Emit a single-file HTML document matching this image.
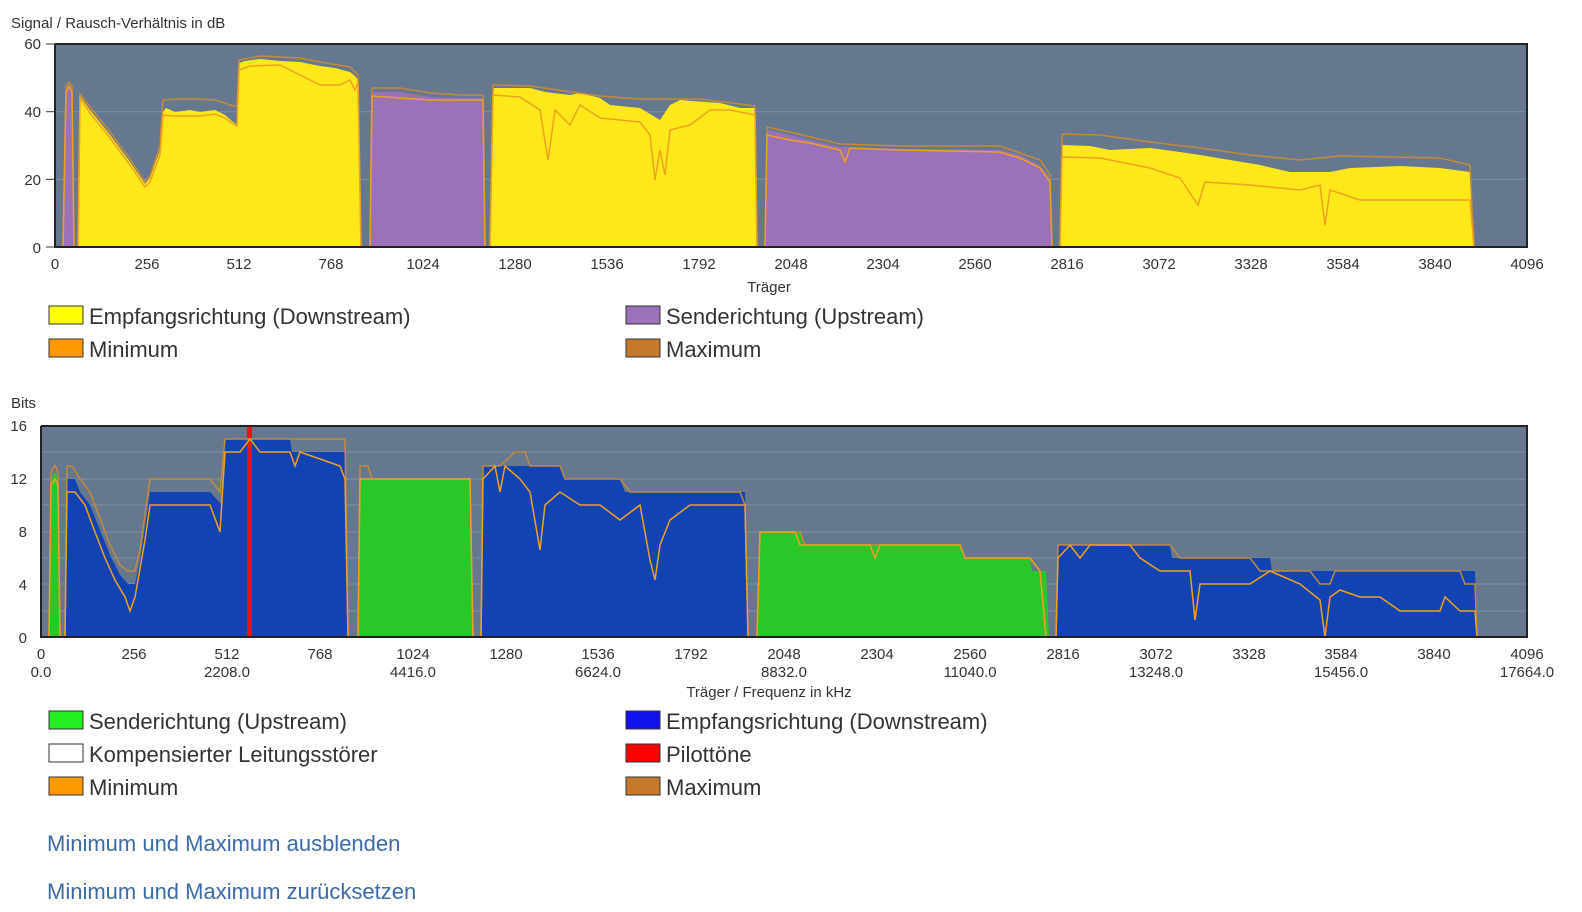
<!DOCTYPE html>
<html><head><meta charset="utf-8"><style>
body{margin:0;background:#fff;}
svg{display:block;font-family:"Liberation Sans",sans-serif;}
</style></head><body>
<svg width="1582" height="912" viewBox="0 0 1582 912" xmlns="http://www.w3.org/2000/svg">
<!-- Chart 1 -->
<text x="11" y="28" font-size="15" fill="#333">Signal / Rausch-Verhältnis in dB</text>
<rect x="55" y="44" width="1472" height="203" fill="#657890"/>
<g stroke="#7d90a6" stroke-width="1"><line x1="55" y1="111.7" x2="1527" y2="111.7"/><line x1="55" y1="179.3" x2="1527" y2="179.3"/></g>
<polygon fill="#9b72b8" points="63,247 66,90 69,84 72,90 74,247"/>
<polygon fill="#9b72b8" points="370,247 372,92 400,92 430,97 460,98 483,98 485,247"/>
<polygon fill="#9b72b8" points="765,247 767,130 790,135 810,140 840,147 900,149 1000,150 1020,155 1040,165 1050,178 1052,247"/>
<polygon fill="#ffe81a" points="78,247 80,96 90,110 110,135 130,162 145,184 150,178 160,150 163,112 166,108 175,112 190,110 200,112 215,110 225,115 233,122 237,125 239,63 245,61 260,59 280,61 300,62 320,66 335,68 350,72 355,76 358,80 361,247"/>
<polygon fill="#ffe81a" points="490,247 493,88 530,88 545,92 570,95 580,93 600,98 610,105 640,108 660,120 670,105 680,100 720,103 740,108 755,108 757,247"/>
<polygon fill="#ffe81a" points="1060,247 1062,145 1090,146 1110,150 1150,148 1180,152 1200,155 1230,160 1260,165 1290,172 1330,172 1350,168 1400,166 1440,168 1470,172 1474,247"/>
<g fill="none" stroke-width="1.5">
<polyline stroke="#c48a3a" points="63,247 66,86 69,82 72,86 74,247 78,247 80,94 90,107 110,132 130,159 145,182 150,176 160,146 163,100 175,99 200,99 215,100 225,103 233,106 237,106 239,60 260,56 300,58 320,62 350,67 358,75 361,247 370,247 372,88 400,88 430,93 460,95 483,95 485,247 490,247 493,85 530,86 600,96 640,99 700,99 740,104 755,106 757,247 765,247 767,127 790,132 840,144 900,146 1000,146 1040,160 1050,175 1052,247 1060,247 1062,134 1100,135 1150,142 1200,148 1250,155 1300,160 1340,156 1440,158 1470,165 1474,247"/>
<polyline stroke="#f0a020" points="63,247 66,92 69,86 72,92 74,247 78,247 80,98 90,113 110,138 130,165 145,187 150,182 160,155 163,115 175,116 200,116 215,114 225,118 233,124 237,126 239,70 250,66 280,65 300,75 320,85 340,85 350,80 355,90 358,82 361,247 370,247 372,96 400,98 430,100 460,100 483,100 485,247 490,247 493,95 520,97 540,110 548,160 555,110 570,125 580,105 600,118 620,120 640,122 650,135 655,180 660,150 665,175 670,130 690,125 710,110 730,110 755,115 757,247 765,247 767,135 790,140 810,143 840,150 845,162 850,148 900,150 1000,152 1020,158 1040,168 1050,182 1052,247 1060,247 1062,157 1100,158 1150,168 1180,178 1198,205 1205,182 1250,185 1300,190 1320,185 1325,225 1330,190 1360,200 1400,200 1440,200 1470,200 1474,247"/>
</g>
<polyline fill="none" stroke="#222" stroke-width="2" points="55,44 1527,44 1527,247 55,247 55,44"/>
<g font-size="15" fill="#333" text-anchor="end"><text x="41" y="49">60</text><text x="41" y="117">40</text><text x="41" y="185">20</text><text x="41" y="253">0</text></g>
<g stroke="#333"><line x1="46" y1="44" x2="55" y2="44"/><line x1="46" y1="111.7" x2="55" y2="111.7"/><line x1="46" y1="179.3" x2="55" y2="179.3"/><line x1="46" y1="247" x2="55" y2="247"/></g>
<g font-size="15" fill="#333" text-anchor="middle">
<text x="55" y="269">0</text><text x="147" y="269">256</text><text x="239" y="269">512</text><text x="331" y="269">768</text><text x="423" y="269">1024</text><text x="515" y="269">1280</text><text x="607" y="269">1536</text><text x="699" y="269">1792</text><text x="791" y="269">2048</text><text x="883" y="269">2304</text><text x="975" y="269">2560</text><text x="1067" y="269">2816</text><text x="1159" y="269">3072</text><text x="1251" y="269">3328</text><text x="1343" y="269">3584</text><text x="1435" y="269">3840</text><text x="1527" y="269">4096</text>
<text x="769" y="292">Träger</text></g>
<g font-size="22" fill="#333">
<rect x="49" y="306" width="34" height="18" fill="#ffff00" stroke="#333"/><text x="89" y="324">Empfangsrichtung (Downstream)</text>
<rect x="626" y="306" width="34" height="18" fill="#9b72b8" stroke="#333"/><text x="666" y="324">Senderichtung (Upstream)</text>
<rect x="49" y="339" width="34" height="18" fill="#ff9900" stroke="#333"/><text x="89" y="357">Minimum</text>
<rect x="626" y="339" width="34" height="18" fill="#c47a2a" stroke="#333"/><text x="666" y="357">Maximum</text>
</g>
<!-- Chart 2 -->
<text x="11" y="408" font-size="15" fill="#333">Bits</text>
<rect x="41" y="426" width="1486" height="211" fill="#657890"/>
<g stroke="#7d90a6" stroke-width="1"><line x1="41" y1="452" x2="1527" y2="452"/><line x1="41" y1="479" x2="1527" y2="479"/><line x1="41" y1="505" x2="1527" y2="505"/><line x1="41" y1="532" x2="1527" y2="532"/><line x1="41" y1="558" x2="1527" y2="558"/><line x1="41" y1="584" x2="1527" y2="584"/><line x1="41" y1="611" x2="1527" y2="611"/></g>
<polygon fill="#28c828" points="49,637 51,479 55,472 58,479 60,637"/>
<polygon fill="#28c828" points="358,637 360,479 470,479 473,637"/>
<polygon fill="#28c828" points="757,637 760,532 800,532 803,545 960,545 963,558 1030,558 1032,571 1046,571 1049,637"/>
<polygon fill="#1243b3" points="65,637 67,479 75,479 80,492 90,505 100,530 110,555 120,575 128,584 135,584 140,560 150,492 210,492 222,505 225,439 290,439 292,452 345,452 348,637"/>
<polygon fill="#1243b3" points="481,637 483,466 560,466 565,479 620,479 625,492 745,492 748,637"/>
<polygon fill="#1243b3" points="1056,637 1058,545 1170,545 1172,558 1270,558 1272,571 1475,571 1477,637"/>
<rect x="247" y="426" width="5" height="211" fill="#ee1111"/>
<g fill="none" stroke-width="1.5">
<polyline stroke="#c48a3a" points="49,637 51,472 55,465 58,472 60,637 65,637 67,466 72,466 80,479 90,492 100,518 110,545 120,565 128,571 135,571 140,550 150,479 210,479 220,492 225,439 345,439 348,637 358,637 360,466 368,466 372,479 470,479 473,637 481,637 483,466 500,466 515,452 525,452 530,466 560,466 565,479 620,479 630,492 740,492 745,505 748,637 757,637 760,532 800,532 805,545 960,545 965,558 1030,558 1040,571 1046,637 1056,637 1058,545 1170,545 1180,558 1250,558 1260,571 1310,571 1320,584 1330,584 1335,571 1460,571 1465,584 1475,584 1477,637"/>
<polyline stroke="#f0a020" points="49,637 51,485 55,479 58,485 60,637 65,637 67,492 75,492 85,505 95,532 105,558 115,580 125,597 130,611 135,597 145,540 150,505 210,505 220,532 225,452 240,452 250,439 260,452 290,452 295,466 300,452 340,466 345,479 348,637 358,637 360,479 470,479 473,637 481,637 483,479 495,466 500,492 505,466 520,479 530,492 540,550 545,505 560,492 580,505 600,505 620,520 640,505 650,560 655,580 660,545 670,520 690,505 745,505 748,637 757,637 760,532 795,532 800,545 870,545 875,558 880,545 960,545 965,558 1030,558 1040,571 1046,637 1056,637 1058,558 1070,545 1080,558 1090,545 1130,545 1140,558 1160,571 1190,571 1195,620 1200,584 1250,584 1270,571 1300,584 1320,600 1325,637 1330,597 1340,590 1360,597 1380,597 1400,611 1440,611 1445,597 1460,611 1475,611 1477,637"/>
</g>
<polyline fill="none" stroke="#222" stroke-width="2" points="41,426 1527,426 1527,637 41,637 41,426"/>
<g font-size="15" fill="#333" text-anchor="end"><text x="27" y="431">16</text><text x="27" y="484">12</text><text x="27" y="537">8</text><text x="27" y="590">4</text><text x="27" y="643">0</text></g>
<g font-size="15" fill="#333" text-anchor="middle">
<text x="41" y="659">0</text><text x="134" y="659">256</text><text x="227" y="659">512</text><text x="320" y="659">768</text><text x="413" y="659">1024</text><text x="506" y="659">1280</text><text x="598" y="659">1536</text><text x="691" y="659">1792</text><text x="784" y="659">2048</text><text x="877" y="659">2304</text><text x="970" y="659">2560</text><text x="1063" y="659">2816</text><text x="1156" y="659">3072</text><text x="1249" y="659">3328</text><text x="1341" y="659">3584</text><text x="1434" y="659">3840</text><text x="1527" y="659">4096</text>
<text x="41" y="677">0.0</text><text x="227" y="677">2208.0</text><text x="413" y="677">4416.0</text><text x="598" y="677">6624.0</text><text x="784" y="677">8832.0</text><text x="970" y="677">11040.0</text><text x="1156" y="677">13248.0</text><text x="1341" y="677">15456.0</text><text x="1527" y="677">17664.0</text>
<text x="769" y="697">Träger / Frequenz in kHz</text></g>
<g font-size="22" fill="#333">
<rect x="49" y="711" width="34" height="18" fill="#22ee22" stroke="#333"/><text x="89" y="729">Senderichtung (Upstream)</text>
<rect x="626" y="711" width="34" height="18" fill="#1111ee" stroke="#333"/><text x="666" y="729">Empfangsrichtung (Downstream)</text>
<rect x="49" y="744" width="34" height="18" fill="#ffffff" stroke="#333"/><text x="89" y="762">Kompensierter Leitungsstörer</text>
<rect x="626" y="744" width="34" height="18" fill="#ff0000" stroke="#333"/><text x="666" y="762">Pilottöne</text>
<rect x="49" y="777" width="34" height="18" fill="#ff9900" stroke="#333"/><text x="89" y="795">Minimum</text>
<rect x="626" y="777" width="34" height="18" fill="#c47a2a" stroke="#333"/><text x="666" y="795">Maximum</text>
</g>
<g font-size="22" fill="#3d6aa8">
<text x="47" y="851">Minimum und Maximum ausblenden</text>
<text x="47" y="899">Minimum und Maximum zurücksetzen</text>
</g>
</svg>
</body></html>
